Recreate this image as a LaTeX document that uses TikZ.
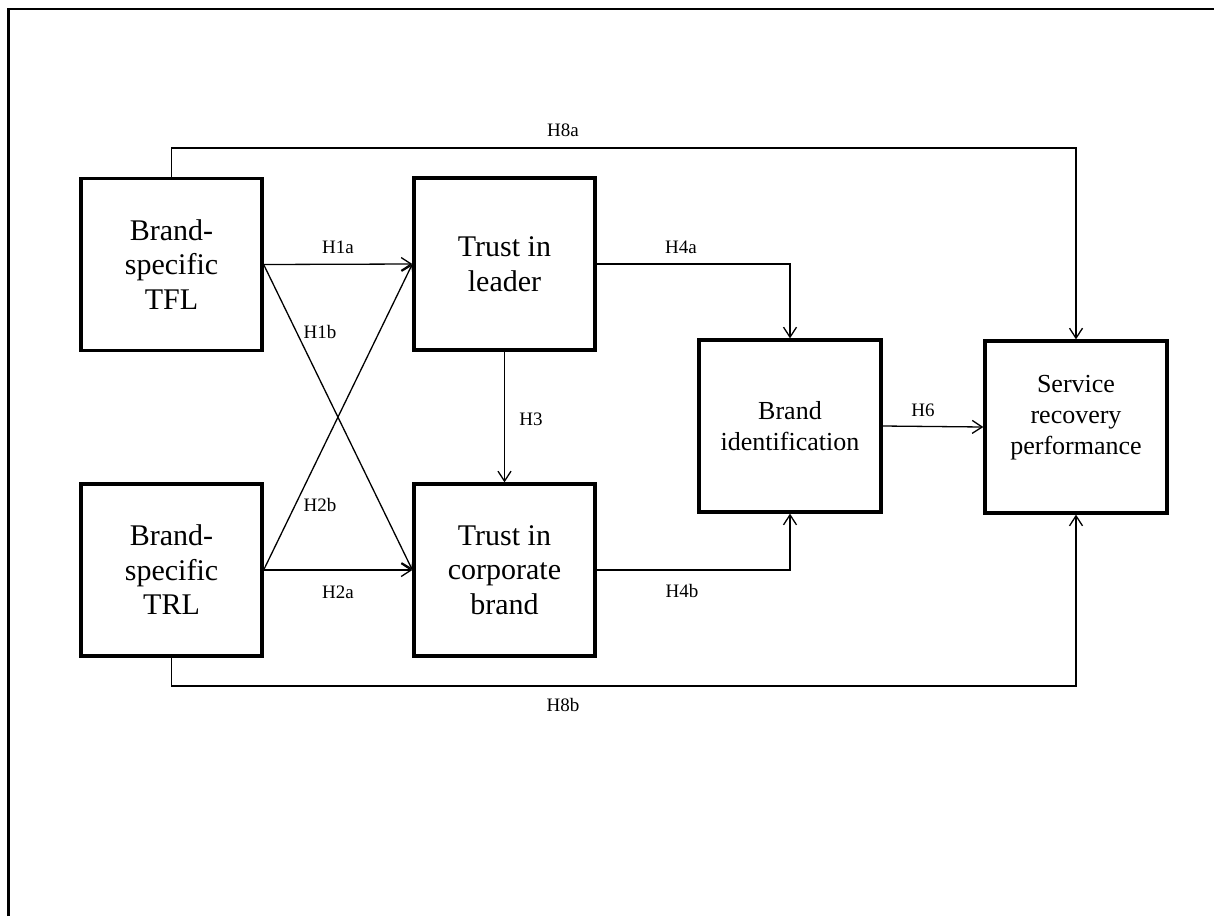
\documentclass[tikz,border=0pt]{standalone}
\usepackage{fontspec}
\setmainfont{Liberation Serif}
\usetikzlibrary{arrows.meta}
\begin{document}
\begin{tikzpicture}[x=1pt,y=-1pt,
  box/.style={draw,line width=3.3pt,inner sep=0pt,minimum width=181pt,minimum height=172pt,align=center,font=\fontsize{30}{34.5}\selectfont},
  boxsm/.style={box,font=\fontsize{26}{31}\selectfont},
  conn/.style={line width=1.3pt},
  arr/.style={conn,-{Straight Barb[length=10pt,width=13pt,line width=1.3pt]}},
  lab/.style={anchor=base,inner sep=0pt,font=\fontsize{19}{22}\selectfont}]
\useasboundingbox (0,0) rectangle (1214,916);
\draw[line width=2.2pt] (8.5,916) -- (8.5,9) -- (1214,9);

\node[box] (tfl) at (171.5,264.5) {Brand-\\specific\\TFL};
\node[box] (trl) at (171.5,570) {Brand-\\specific\\TRL};
\node[box] (lead) at (504.5,264) {Trust in\\leader};
\node[box] (corp) at (504.5,570) {Trust in\\corporate\\brand};
\node[boxsm,minimum width=182pt] (bid) at (790,426) {Brand\\identification};
\node[boxsm,minimum width=182pt] (srp) at (1076,427) {Service\\recovery\\performance\\[-6pt]};

\coordinate (t8a) at (600,148);
\coordinate (t8b) at (600,686);

\draw[arr] (tfl.east) -- (lead.west);
\draw[arr] (tfl.east) -- (corp.west);
\draw[arr] (trl.east) -- (lead.west);
\draw[arr] (trl.east) -- (corp.west);
\draw[arr] (lead.south) -- (corp.north);
\draw[arr] (lead.east) -| (bid.north);
\draw[arr] (corp.east) -| (bid.south);
\draw[arr] (bid.east) -- (srp.west);
\draw[arr] (tfl.north) |- (t8a) -| (srp.north);
\draw[arr] (trl.south) |- (t8b) -| (srp.south);

\node[lab] (l1a) at (338,253) {H1a};
\node[lab] (l1b) at (320,338) {H1b};
\node[lab] (l2b) at (320,511) {H2b};
\node[lab] (l2a) at (338,598) {H2a};
\node[lab] (l3) at (531,425) {H3};
\node[lab] (l4a) at (681,253) {H4a};
\node[lab] (l4b) at (682,597) {H4b};
\node[lab] (l6) at (923,416) {H6};
\node[lab] (l8a) at (563,136) {H8a};
\node[lab] (l8b) at (563,711) {H8b};
\end{tikzpicture}
\end{document}
